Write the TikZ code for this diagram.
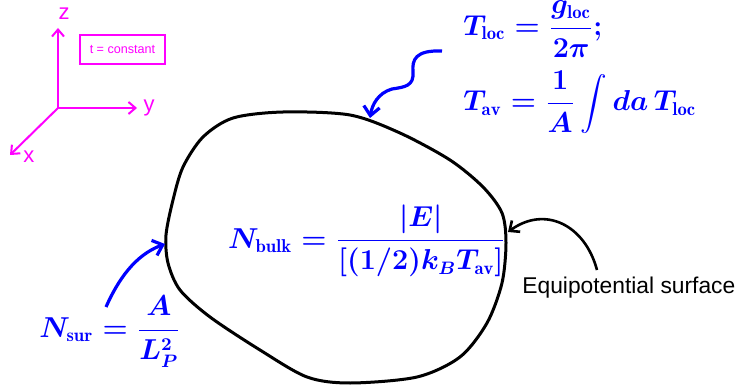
\documentclass[tikz,border=0pt]{standalone}
\usepackage{amsmath,amssymb}
\usepackage{fontspec}
\setsansfont{Liberation Sans}
\usepackage{tikz}
\usetikzlibrary{arrows.meta,calc,positioning}
\definecolor{axis}{HTML}{FF00FF}
\definecolor{eqblue}{HTML}{0000FF}

\begin{document}
\begin{tikzpicture}[x=0.5pt,y=-0.5pt,
    axisline/.style={axis,line width=1pt,-{Straight Barb[length=3.5pt,width=6pt]}},
    axislabel/.style={axis,font=\sffamily\fontsize{11}{13}\selectfont},
    formula/.style={eqblue,font=\fontsize{13.3}{16}\selectfont\boldmath,inner sep=1pt},
    bluearrow/.style={eqblue,line width=1.6pt,-{Straight Barb[length=4.5pt,width=8pt]}},
    blackarrow/.style={black,line width=1.3pt,-{Straight Barb[length=4pt,width=7pt]}}]
  \useasboundingbox (0,0) rectangle (739,385);
  % coordinate frame
  \coordinate (o) at (58,108);
  \coordinate (zend) at (58,28);
  \coordinate (yend) at (137,108);
  \coordinate (xend) at (10,155);
  \draw[axisline] (o) -- (zend);
  \draw[axisline] (o) -- (yend);
  \draw[axisline] (o) -- (xend);
  \node[axislabel] (zlab) at (64,14) {z};
  \node[axislabel] (ylab) at (149,108) {y};
  \node[axislabel] (xlab) at (29,157) {x};
  \node[draw=axis,line width=0.8pt,axis,font=\sffamily\fontsize{6.3}{7}\selectfont,
    minimum width=42.5pt,minimum height=14.5pt,inner sep=0pt] (tbox) at (122.5,49.5) {t = constant};
  % the surface
  \draw[line width=1.5pt] plot[smooth cycle] coordinates {
    (166,235) (173,200) (183,167) (203,137) (233,118) (283,112) (350,115)
    (400,133) (450,160) (483,187) (502,213) (506,243) (502,283) (487,323)
    (460,357) (417,377) (350,383) (307,377) (260,350) (210,317) (180,290)
    (168,263)};
  \coordinate (toptip) at (370,118);
  \coordinate (lefttip) at (165,244);
  \coordinate (righttip) at (508,232);
  % formulas
  \node[formula,anchor=west] (tloc) at (461,29)
    {$T_{\mathrm{loc}} = \dfrac{g_{\mathrm{loc}}}{2\pi};$};
  \node[formula,anchor=west] (tav) at (461,102)
    {$T_{\mathrm{av}} = \dfrac{1}{A}\displaystyle\int da\, T_{\mathrm{loc}}$};
  \node[formula] (nbulk) at (367,241)
    {$N_{\mathrm{bulk}} = \dfrac{|E|}{[(1/2)k_BT_{\mathrm{av}}]}$};
  \node[formula] (nsur) at (110,332)
    {$N_{\mathrm{sur}} = \dfrac{A}{L_P^2}$};
  \node[font=\sffamily\fontsize{11.4}{13}\selectfont,anchor=west,inner sep=1pt] (equi) at (520,288) {Equipotential surface};
  % pointers
  \coordinate (wstart) at (442,51);
  \coordinate (sstart) at (106,307);
  \coordinate (estart) at (597,270);
  \draw[bluearrow] (wstart) .. controls (415,50) and (412,60) .. (413,72)
    .. controls (414,86) and (405,87) .. (392,89)
    .. controls (378,93) and (372,105) .. (toptip);
  \draw[bluearrow] (sstart) .. controls (118,280) and (135,255) .. (lefttip);
  \draw[blackarrow] (estart) .. controls (585,225) and (545,205) .. (righttip);
\end{tikzpicture}
\end{document}
